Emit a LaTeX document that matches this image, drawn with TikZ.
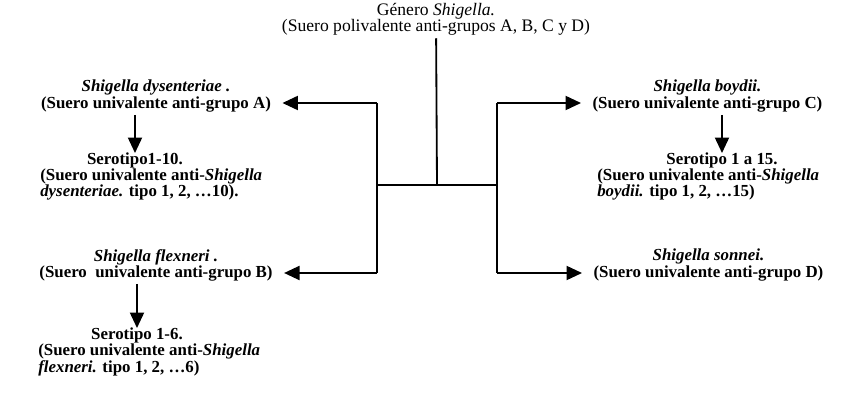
\documentclass[tikz,border=0pt]{standalone}
\usepackage{fontspec}
\setmainfont{Liberation Serif}
\usetikzlibrary{arrows.meta}
\tikzset{
  box/.style={align=center, inner ysep=2pt, inner xsep=8pt, font=\fontsize{12}{11.4}\selectfont\bfseries},
  body/.style={align=left, inner sep=0pt, font=\fontsize{12}{11.4}\selectfont\bfseries},
  title/.style={align=center, inner sep=2pt, font=\fontsize{12.5}{11.6}\selectfont},
  arr/.style={line width=1.3pt, -{Triangle[length=11pt, width=10pt]}},
  ln/.style={line width=1.3pt}
}
\begin{document}
\begin{tikzpicture}[x=0.025cm, y=-0.025cm]
\useasboundingbox (0,0) rectangle (862,399);

\node[title] (gen) at (436,19) {G\'enero \textit{Shigella.}\\(Suero polivalente anti-grupos A, B, C y D)};

% left side
\node[box] (ga) at (156,96) {\textit{Shigella dysenteriae .}\\(Suero univalente anti-grupo A)};
\node[body, anchor=base] (sa) at (135,165) {Serotipo1-10.};
\node[body, anchor=base west] (sab) at (40,197) {(Suero univalente anti-\textit{Shigella}\\\textit{dysenteriae.} tipo 1, 2, \dots10).};
\node[box] (gb) at (156,265) {\textit{Shigella flexneri .}\\(Suero\ \ univalente anti-grupo B)};
\node[body, anchor=base] (sb) at (137,340) {Serotipo 1-6.};
\node[body, anchor=base west] (sbb) at (38,372) {(Suero univalente anti-\textit{Shigella}\\\textit{flexneri.} tipo 1, 2, \dots6)};

% right side
\node[box, anchor=west] (gc) at (581,96) {\textit{Shigella boydii.}\\(Suero univalente anti-grupo C)};
\node[body, anchor=base] (sc) at (722,165) {Serotipo 1 a 15.};
\node[body, anchor=base west] (scb) at (597,197) {(Suero univalente anti-\textit{Shigella}\\\textit{boydii.} tipo 1, 2, \dots15)};
\node[box, anchor=west] (gd) at (582,265) {\textit{Shigella sonnei.}\\(Suero univalente anti-grupo D)};

\coordinate (j) at (437,185);
\coordinate (jl) at (377,185);
\coordinate (jr) at (497,185);
\coordinate (la) at (377,103);
\coordinate (lb) at (377,273);
\coordinate (rc) at (497,103);
\coordinate (rd) at (497,273);

\draw[ln] (gen) -- (j);
\draw[ln] (jl) -- (jr);
\draw[ln] (la) -- (lb);
\draw[ln] (rc) -- (rd);

\draw[arr] (la) -- (la -| ga.east);
\draw[arr] (lb) -- (lb -| gb.east);
\draw[arr] (rc) -- (rc -| gc.west);
\draw[arr] (rd) -- (rd -| gd.west);

\draw[arr] (ga.south -| sa.north) -- (sa.north);
\draw[arr] (gb.south -| sb.north) -- (sb.north);
\draw[arr] (gc.south -| sc.north) -- (sc.north);
\end{tikzpicture}
\end{document}
